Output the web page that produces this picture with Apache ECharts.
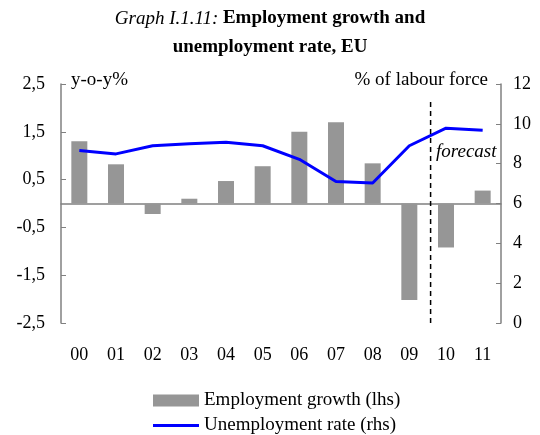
<!DOCTYPE html>
<html>
<head>
<meta charset="utf-8">
<script src="https://cdn.jsdelivr.net/npm/echarts@6/dist/echarts.min.js"></script>
<style>
  html, body { margin: 0; padding: 0; background: #fff; }
  #chart { width: 540px; height: 435px; }
</style>
</head>
<body>
<div id="chart"></div>
<script>
const years = ['00', '01', '02', '03', '04', '05', '06', '07', '08', '09', '10', '11'];
const employmentGrowth = [1.3, 0.82, -0.22, 0.1, 0.47, 0.78, 1.5, 1.7, 0.84, -2.02, -0.92, 0.27];
const unemploymentRate = [8.66, 8.49, 8.9, 9.0, 9.08, 8.9, 8.22, 7.1, 7.03, 8.9, 9.78, 9.68];
const leftTicks = { min: -2.5, max: 2.5, step: 1 };
const rightTicks = { min: 0, max: 12, step: 2 };
const forecastStart = [[10.08, 0], [10.08, 11.1]];

const serif = 'Liberation Serif';
const axisGray = '#808080';

const chart = echarts.init(document.getElementById('chart'));

const option = {
  animation: false,
  textStyle: { fontFamily: serif },
  title: {
    text: '{i|Graph I.1.11:} {b|Employment growth and}\n{b|unemployment rate, EU}',
    left: 'center',
    top: -1,
    textStyle: {
      fontFamily: serif,
      fontWeight: 'normal',
      lineHeight: 29,
      rich: {
        i: { fontFamily: serif, fontStyle: 'italic', fontWeight: 'normal', fontSize: 19, lineHeight: 29, color: '#000' },
        b: { fontFamily: serif, fontWeight: 'bold', fontSize: 19, lineHeight: 29, color: '#000' }
      }
    }
  },
  grid: { left: 61, right: 39, top: 84, bottom: 112, containLabel: false },
  legend: [
    {
      left: 148,
      top: 386,
      itemWidth: 46,
      itemHeight: 12,
      textStyle: { fontFamily: serif, fontSize: 19, color: '#000' },
      data: [{ name: 'Employment growth (lhs)', icon: 'rect' }]
    },
    {
      left: 148,
      top: 411,
      itemWidth: 46,
      itemHeight: 3,
      textStyle: { fontFamily: serif, fontSize: 19, color: '#000' },
      data: [{ name: 'Unemployment rate (rhs)', icon: 'rect' }]
    }
  ],
  xAxis: [
    {
      type: 'category',
      data: years,
      axisLine: { onZero: true, onZeroAxisIndex: 0, lineStyle: { color: axisGray, width: 1.5 } },
      axisTick: { inside: true, length: 5, alignWithLabel: false, lineStyle: { color: axisGray } },
      axisLabel: { show: false },
      splitLine: { show: false }
    },
    {
      type: 'category',
      data: years,
      position: 'bottom',
      axisLine: { show: false },
      axisTick: { show: false },
      axisLabel: { margin: 23, fontFamily: serif, fontSize: 18, color: '#000' }
    },
    {
      type: 'value',
      min: 0,
      max: 12,
      show: false
    }
  ],
  yAxis: [
    {
      type: 'value',
      min: leftTicks.min,
      max: leftTicks.max,
      interval: leftTicks.step,
      name: 'y-o-y%',
      nameLocation: 'end',
      nameGap: 4,
      nameTextStyle: { fontFamily: serif, fontSize: 19, color: '#000', align: 'left', verticalAlign: 'middle', padding: [0, 0, 0, 10] },
      axisLine: { show: true, lineStyle: { color: axisGray, width: 1.5 } },
      axisTick: { show: true, inside: true, length: 5, lineStyle: { color: axisGray } },
      axisLabel: {
        margin: 16,
        fontFamily: serif,
        fontSize: 18,
        color: '#000',
        formatter: v => v.toFixed(1).replace('.', ',')
      },
      splitLine: { show: false }
    },
    {
      type: 'value',
      min: rightTicks.min,
      max: rightTicks.max,
      interval: rightTicks.step,
      position: 'right',
      name: '% of labour force',
      nameLocation: 'end',
      nameGap: 4,
      nameTextStyle: { fontFamily: serif, fontSize: 19, color: '#000', align: 'right', verticalAlign: 'middle', padding: [0, 13, 0, 0] },
      axisLine: { show: true, lineStyle: { color: axisGray, width: 1.5 } },
      axisTick: { show: true, inside: true, length: 5, lineStyle: { color: axisGray } },
      axisLabel: { margin: 12, fontFamily: serif, fontSize: 18, color: '#000' },
      splitLine: { show: false }
    }
  ],
  graphic: [
    {
      type: 'text',
      left: 436,
      top: 142,
      style: { text: 'forecast', fontFamily: serif, fontStyle: 'italic', fontSize: 19, fill: '#000' }
    }
  ],
  series: [
    {
      name: 'Employment growth (lhs)',
      type: 'bar',
      xAxisIndex: 0,
      yAxisIndex: 0,
      barWidth: 16,
      itemStyle: { color: '#969696' },
      data: employmentGrowth
    },
    {
      name: 'Unemployment rate (rhs)',
      type: 'line',
      xAxisIndex: 0,
      yAxisIndex: 1,
      symbol: 'none',
      lineStyle: { color: '#0000ff', width: 3 },
      itemStyle: { color: '#0000ff' },
      data: unemploymentRate
    },
    {
      name: 'forecast',
      type: 'line',
      xAxisIndex: 2,
      yAxisIndex: 1,
      symbol: 'none',
      silent: true,
      lineStyle: { color: '#000', width: 1.5, type: [5, 4] },
      data: forecastStart
    }
  ]
};

chart.setOption(option);
</script>
</body>
</html>
